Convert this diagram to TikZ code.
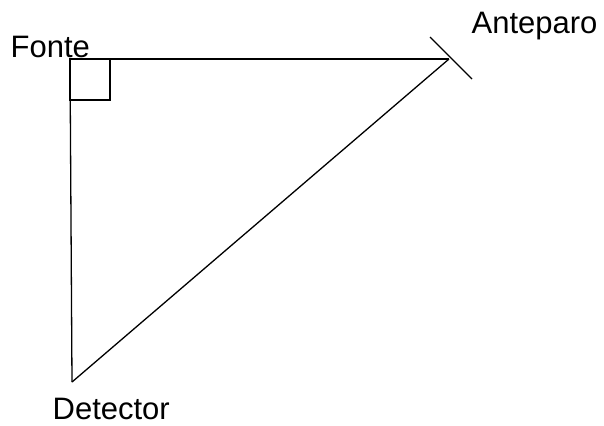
\documentclass[tikz,border=0pt]{standalone}
\usepackage{fontspec}
\setmainfont{Liberation Sans}
\begin{document}
\begin{tikzpicture}[x=1pt,y=-1pt,line width=1.3pt,
  lbl/.style={inner sep=0pt,anchor=base west,font=\fontsize{31}{31}\selectfont}]
\useasboundingbox (0,0) rectangle (604,425);
\coordinate (F) at (70,59);
\coordinate (A) at (449,59);
\coordinate (D) at (72,382);
\coordinate (S1) at (430,37);
\coordinate (S2) at (472,79);
\coordinate (Q) at (110,100);
\draw (F) -- (A);
\draw (F) -- (D);
\draw (A) -- (D);
\draw (S1) -- (S2);
\draw (F) rectangle (Q);
\node[lbl] (fonte) at (10,58) {Fonte};
\node[lbl] (ante) at (471,34) {Anteparo};
\node[lbl] (det) at (52,419) {Detector};
\end{tikzpicture}
\end{document}
